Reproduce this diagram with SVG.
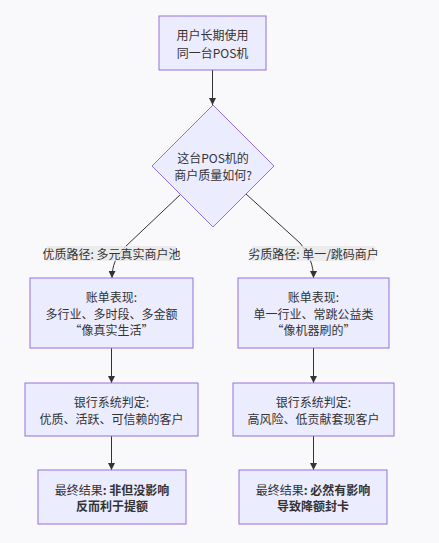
<svg xmlns="http://www.w3.org/2000/svg" width="439" height="543" viewBox="0 0 439 543">
<style>
.n{fill:#ECECFF;stroke:#9370DB;stroke-width:1}
.t{font-family:"Noto Sans CJK SC","Liberation Sans",sans-serif;font-size:12px;fill:#333;text-anchor:middle;dominant-baseline:central}
.b{font-weight:bold}
.e{fill:none;stroke:#333;stroke-width:1}
.lb{fill:#e8e8e8;fill-opacity:0.8}
</style>
<defs>
<marker id="ah" viewBox="0 0 10 10" refX="10" refY="5" markerWidth="7" markerHeight="7" orient="auto" markerUnits="userSpaceOnUse">
<path d="M0,0 L10,5 L0,10 z" fill="#333"/>
</marker>
</defs>
<rect width="439" height="543" fill="#f9f9fb"/>
<g id="edges">
<path class="e" d="M212.5,70 L212.5,105" marker-end="url(#ah)"/>
<path class="e" d="M181,194 L125,247 C116,256 112,266 112,278" marker-end="url(#ah)"/>
<path class="e" d="M246,194 L300,243 C309,254 313.5,265 313.5,278" marker-end="url(#ah)"/>
<path class="e" d="M111.5,348 L111.5,383" marker-end="url(#ah)"/>
<path class="e" d="M313.5,348 L313.5,383" marker-end="url(#ah)"/>
<path class="e" d="M111.5,436 L111.5,470" marker-end="url(#ah)"/>
<path class="e" d="M313.5,436 L313.5,470" marker-end="url(#ah)"/>
</g>
<g id="edge-labels">
<g id="label-good">
<rect class="lb" x="47" y="246" width="129" height="15"/>
<text class="t" x="111.5" y="253.5">优质路径: 多元真实商户池</text>
</g>
<g id="label-bad">
<rect class="lb" x="252" y="246" width="123" height="15"/>
<text class="t" x="313.5" y="253.5">劣质路径: 单一/跳码商户</text>
</g>
</g>
<g id="start">
<rect class="n" x="159" y="16" width="107" height="54"/>
<text class="t" x="212.5" y="34">用户长期使用</text>
<text class="t" x="212.5" y="52">同一台POS机</text>
</g>
<g id="decision">
<polygon class="n" points="213,105 274,166 213,227 152,166"/>
<text class="t" x="213" y="157.5">这台POS机的</text>
<text class="t" x="213" y="174.5">商户质量如何?</text>
</g>
<g id="good-bill">
<rect class="n" x="30" y="278" width="163" height="70"/>
<text class="t" x="111.5" y="296.5">账单表现:</text>
<text class="t" x="111.5" y="313">多行业、多时段、多金额</text>
<text class="t" x="111.5" y="329.5">“像真实生活”</text>
</g>
<g id="bad-bill">
<rect class="n" x="238" y="278" width="151" height="70"/>
<text class="t" x="313.5" y="296.5">账单表现:</text>
<text class="t" x="313.5" y="313">单一行业、常跳公益类</text>
<text class="t" x="313.5" y="329.5">“像机器刷的”</text>
</g>
<g id="good-judge">
<rect class="n" x="25" y="383" width="173" height="53"/>
<text class="t" x="111.5" y="401.5">银行系统判定:</text>
<text class="t" x="111.5" y="418">优质、活跃、可信赖的客户</text>
</g>
<g id="bad-judge">
<rect class="n" x="233" y="383" width="161" height="53"/>
<text class="t" x="313.5" y="401.5">银行系统判定:</text>
<text class="t" x="313.5" y="418">高风险、低贡献套现客户</text>
</g>
<g id="good-result">
<rect class="n" x="38" y="470" width="148" height="54"/>
<text class="t" x="112" y="489">最终结果<tspan class="b">: 非但没影响</tspan></text>
<text class="t b" x="112" y="505.5">反而利于提额</text>
</g>
<g id="bad-result">
<rect class="n" x="239" y="470" width="148" height="54"/>
<text class="t" x="313" y="489">最终结果<tspan class="b">: 必然有影响</tspan></text>
<text class="t b" x="313" y="505.5">导致降额封卡</text>
</g>
</svg>
